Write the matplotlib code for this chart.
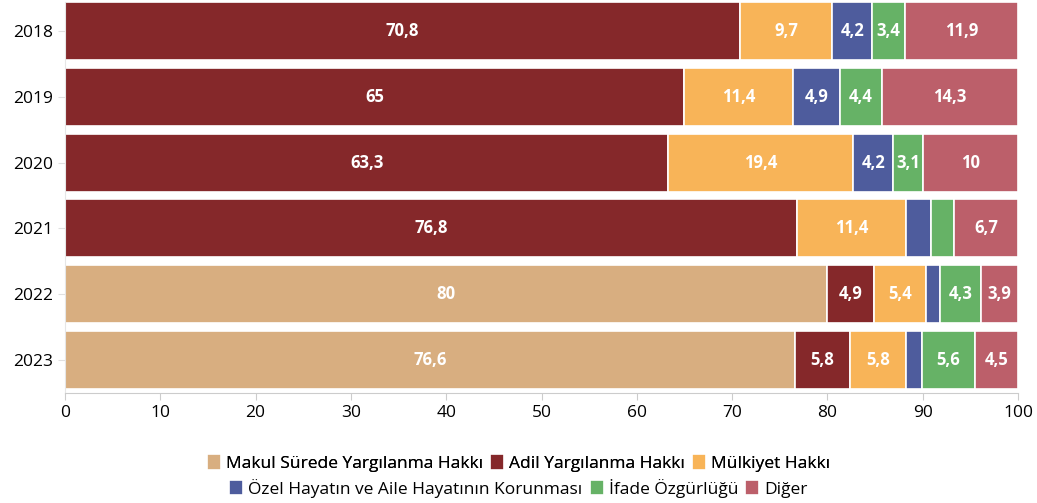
import matplotlib
matplotlib.use("Agg")
import matplotlib.pyplot as plt
import numpy as np

plt.rcParams['font.family'] = ['Open Sans', 'DejaVu Sans']

years = ["2018", "2019", "2020", "2021", "2022", "2023"]
categories = ["Makul Sürede Yargılanma Hakkı", "Adil Yargılanma Hakkı", "Mülkiyet Hakkı",
              "Özel Hayatın ve Aile Hayatının Korunması", "İfade Özgürlüğü", "Diğer"]
makul = [0, 0, 0, 0, 80, 76.6]
adil = [70.8, 65, 63.3, 76.8, 4.9, 5.8]
mulkiyet = [9.7, 11.4, 19.4, 11.4, 5.4, 5.8]
ozel = [4.2, 4.9, 4.2, 2.7, 1.5, 1.7]
ifade = [3.4, 4.4, 3.1, 2.4, 4.3, 5.6]
diger = [11.9, 14.3, 10, 6.7, 3.9, 4.5]
series = [makul, adil, mulkiyet, ozel, ifade, diger]
colors = ["#D8AE80", "#85282A", "#F8B458", "#4E5C9D", "#66B266", "#BC5F6A"]

fig = plt.figure(figsize=(10.37, 5.03), dpi=100)
ax = fig.add_axes([65 / 1037, 1 - 393 / 503, 953 / 1037, 391 / 503])

y = np.arange(len(years))
left = np.zeros(len(years))
handles = []
for name, vals, c in zip(categories, series, colors):
    vals = np.array(vals, dtype=float)
    b = ax.barh(y, vals, left=left, height=0.88, color=c, edgecolor="white", linewidth=1.2, label=name)
    handles.append(b)
    for yi, l, v in zip(y, left, vals):
        if v >= 3:
            lab = f"{v:g}".replace(".", ",")
            ax.text(l + v / 2, yi, lab, ha="center", va="center", color="white",
                    fontsize=12, fontweight="bold")
    left += vals

ax.set_xlim(0, 100)
ax.set_ylim(5.5, -0.44)
ax.set_yticks(y)
ax.set_yticklabels(years, fontsize=12.5)
ax.set_xticks(range(0, 101, 10))
ax.tick_params(axis="x", labelsize=12.5, color="#cccccc", length=5)
ax.tick_params(axis="y", color="#e0e0e0", length=5)
for s in ["top", "right"]:
    ax.spines[s].set_visible(False)
ax.spines["left"].set_color("#e6e6e6")
ax.spines["bottom"].set_color("#cccccc")

leg_kw = dict(loc="center", ncol=3, frameon=False, fontsize=12.5, handlelength=0.8,
              handleheight=1.0, handletextpad=0.3, columnspacing=0.4)
leg1 = fig.legend(handles[:3], categories[:3], bbox_to_anchor=(0.5, 1 - 463 / 503), **leg_kw)
fig.legend(handles[3:], categories[3:], bbox_to_anchor=(0.5, 1 - 488 / 503), **leg_kw)
fig.add_artist(leg1)

fig.savefig("out.png", dpi=100)
